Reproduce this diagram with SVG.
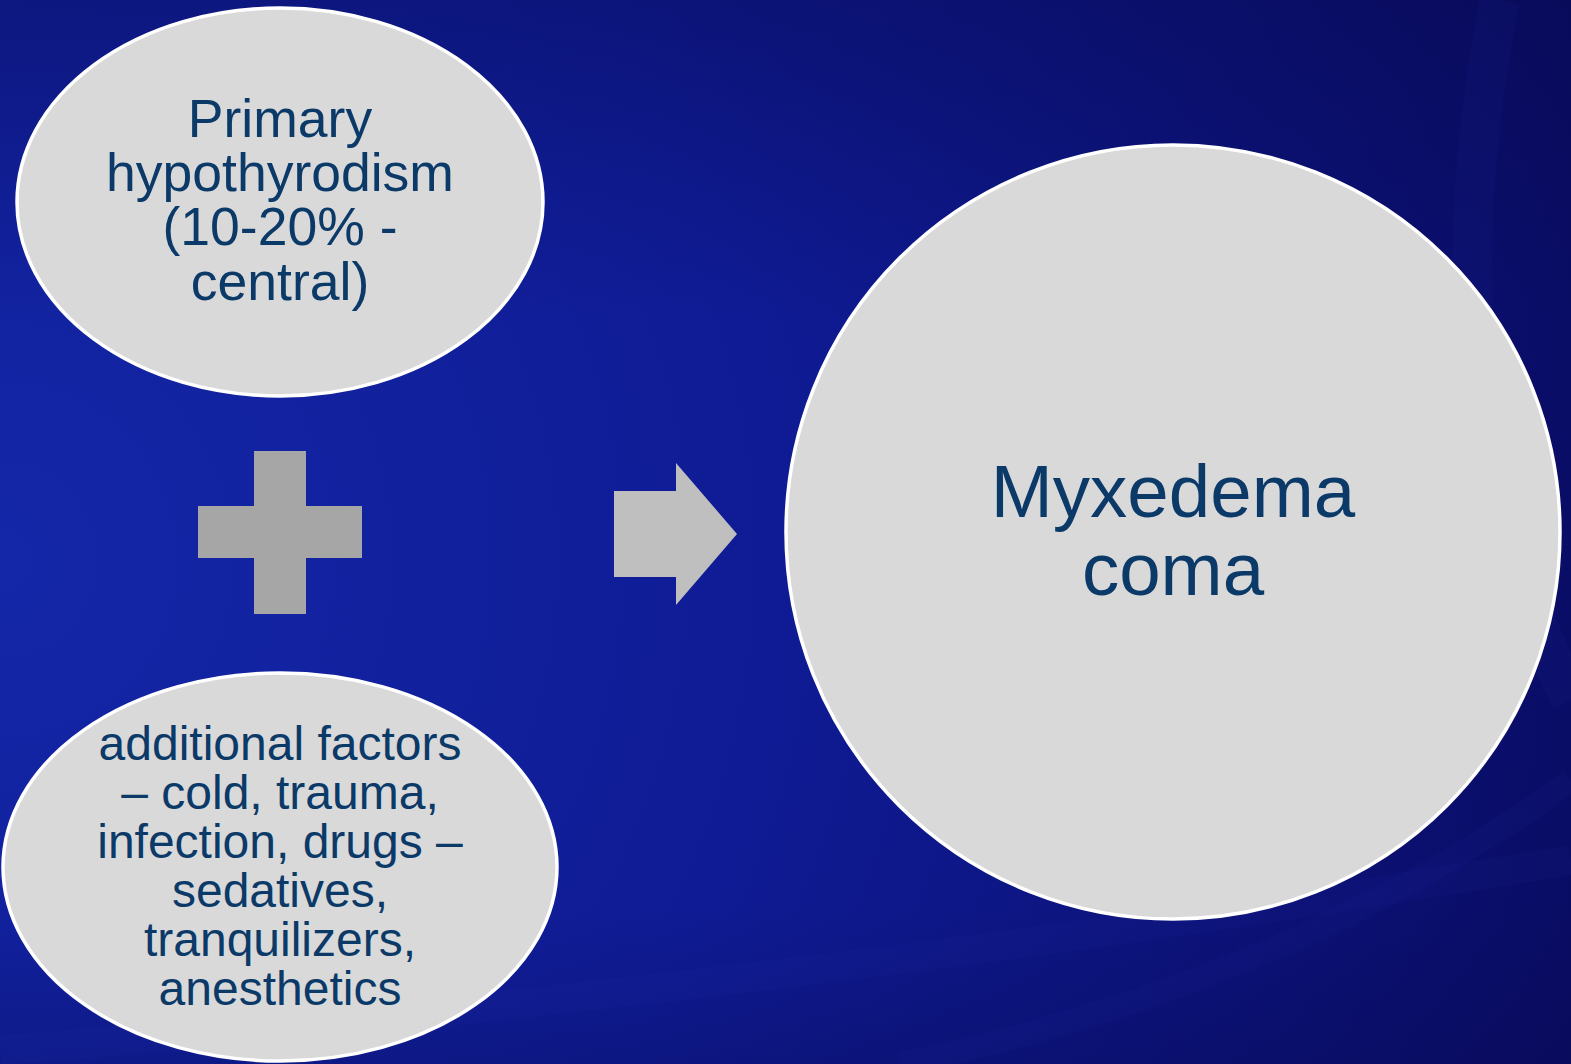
<svg xmlns="http://www.w3.org/2000/svg" width="1571" height="1064" viewBox="0 0 1571 1064">
  <defs>
    <radialGradient id="bg" cx="0" cy="560" r="1750" gradientUnits="userSpaceOnUse">
      <stop offset="0" stop-color="#1427a8"/>
      <stop offset="0.45" stop-color="#0f1b94"/>
      <stop offset="0.8" stop-color="#0b1072"/>
      <stop offset="1" stop-color="#090a5a"/>
    </radialGradient>
    <linearGradient id="shade" x1="0" y1="0" x2="0" y2="1">
      <stop offset="0" stop-color="#070a50" stop-opacity="0.35"/>
      <stop offset="0.3" stop-color="#070a50" stop-opacity="0"/>
      <stop offset="0.85" stop-color="#070a50" stop-opacity="0"/>
      <stop offset="1" stop-color="#070a50" stop-opacity="0.25"/>
    </linearGradient>
    <style>
      .bubble { fill: #d9d9d9; stroke: #ffffff; stroke-width: 3.5; }
      .label { font-family: "Liberation Sans", Arial, sans-serif; fill: #0b3a69; text-anchor: middle; }
      .swoosh { fill: none; stroke: #2a3bb8; stroke-opacity: 0.07; }
    </style>
  </defs>

  <!-- backdrop -->
  <rect x="0" y="0" width="1571" height="1064" fill="url(#bg)"/>
  <rect x="0" y="0" width="1571" height="1064" fill="url(#shade)"/>
  <path class="swoosh" stroke-width="40" d="M 1500 0 Q 1420 400 1571 700"/>
  <path class="swoosh" stroke-width="30" d="M 0 1050 Q 800 990 1571 860"/>
  <path class="swoosh" stroke-width="24" d="M 900 1064 Q 1300 980 1571 780"/>

  <!-- cause: primary hypothyroidism -->
  <g id="node-primary">
    <ellipse class="bubble" cx="280" cy="202" rx="263" ry="194"/>
    <text class="label" font-size="53.5"><tspan x="280" y="137">Primary</tspan><tspan x="280" y="191">hypothyrodism</tspan><tspan x="280" y="245">(10-20% -</tspan><tspan x="280" y="300">central)</tspan></text>
  </g>

  <!-- plus sign -->
  <g id="node-plus">
    <path fill="#a6a6a6" d="M254 451 H306 V506 H362 V558 H306 V614 H254 V558 H198 V506 H254 Z"/>
  </g>

  <!-- cause: additional factors -->
  <g id="node-factors">
    <ellipse class="bubble" cx="280" cy="867" rx="277" ry="194"/>
    <text class="label" font-size="48"><tspan x="280" y="760">additional factors</tspan><tspan x="280" y="809">– cold, trauma,</tspan><tspan x="280" y="858">infection, drugs –</tspan><tspan x="280" y="907">sedatives,</tspan><tspan x="280" y="956">tranquilizers,</tspan><tspan x="280" y="1005">anesthetics</tspan></text>
  </g>

  <!-- result arrow -->
  <g id="connectors">
    <path fill="#bfbfbf" d="M614 491 H676 V463 L737 534 L676 605 V577 H614 Z"/>
  </g>

  <!-- outcome -->
  <g id="node-coma">
    <circle class="bubble" cx="1173" cy="532" r="387"/>
    <text class="label" font-size="74.5"><tspan x="1173" y="517">Myxedema</tspan><tspan x="1173" y="595">coma</tspan></text>
  </g>
</svg>
